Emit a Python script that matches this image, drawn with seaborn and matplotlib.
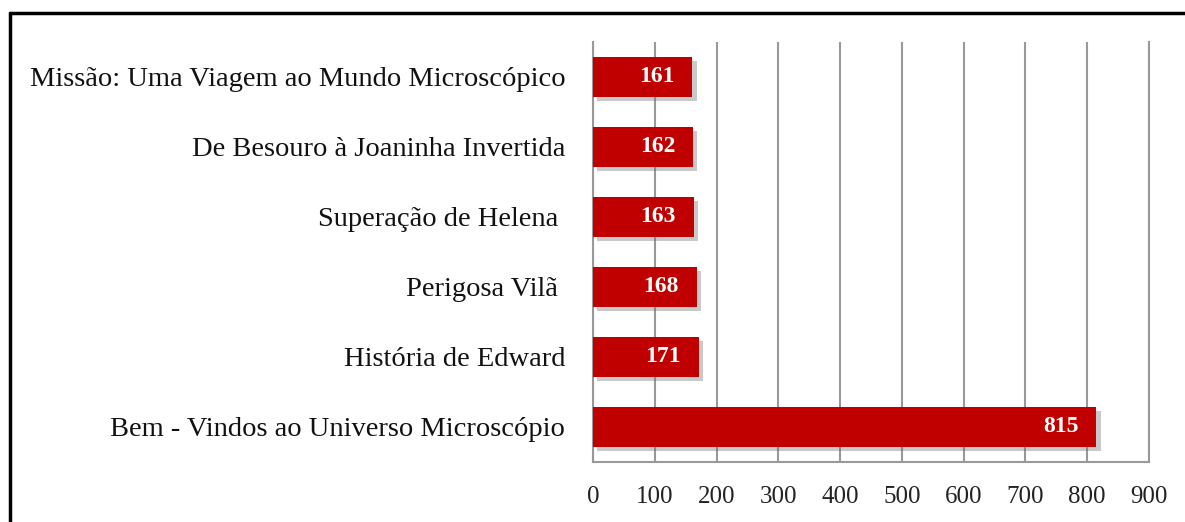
import matplotlib
matplotlib.use('Agg')

import matplotlib.pyplot as plt
import matplotlib.patheffects as pe
from matplotlib.lines import Line2D
import pandas as pd
import seaborn as sns

# dados
titulos = [
    'Missão: Uma Viagem ao Mundo Microscópico',
    'De Besouro à Joaninha Invertida',
    'Superação de Helena ',
    'Perigosa Vilã ',
    'História de Edward',
    'Bem - Vindos ao Universo Microscópio',
]
valores = [161, 162, 163, 168, 171, 815]
x_ticks = [0, 100, 200, 300, 400, 500, 600, 700, 800, 900]

df = pd.DataFrame({'titulo': titulos, 'valor': valores})

sns.set_theme(style='white')
plt.rcParams['font.family'] = ['Liberation Serif', 'DejaVu Serif']

fig = plt.figure(figsize=(11.85, 5.22), dpi=100)
ax = fig.add_axes([593 / 1185, 60 / 522, 556 / 1185, 420 / 522])

sns.barplot(data=df, x='valor', y='titulo', orient='h', color='#C00000',
            saturation=1, width=0.57, linewidth=0, ax=ax, zorder=3)

# sombra das barras
for p in ax.patches:
    p.set_path_effects([pe.SimplePatchShadow(offset=(3, -3), shadow_rgbFace='#666666', alpha=0.35),
                        pe.Normal()])

# rótulos dentro das barras
for p, v in zip(ax.patches, valores):
    ax.annotate(str(v), xy=(p.get_width(), p.get_y() + p.get_height() / 2),
                xytext=(-13, 0), textcoords='offset points', ha='right', va='center',
                color='white', fontsize=17, fontweight='bold', zorder=5)

ax.set_xlim(0, 900)
ax.set_xticks(x_ticks)
ax.set_xticklabels([str(t) for t in x_ticks])
ax.set_ylim(5.5, -0.5)
ax.xaxis.grid(True, color='#999999', linewidth=1.5, zorder=0)
ax.set_axisbelow(True)
ax.set_xlabel('')
ax.set_ylabel('')
ax.tick_params(axis='x', length=0, pad=17, labelsize=18, colors='#222222')
ax.tick_params(axis='y', length=0, pad=20, labelsize=20.5, colors='#111111')

for s in ['left', 'bottom', 'right']:
    ax.spines[s].set_visible(True)
    ax.spines[s].set_color('#999999')
    ax.spines[s].set_linewidth(1.5)
ax.spines['top'].set_visible(False)

# moldura da figura
fig.add_artist(Line2D([10 / 1185, 1], [1 - 13 / 522, 1 - 13 / 522], color='black', linewidth=2.5,
                      transform=fig.transFigure))
fig.add_artist(Line2D([10 / 1185, 10 / 1185], [0, 1 - 13 / 522], color='black', linewidth=2.5,
                      transform=fig.transFigure))

fig.savefig('out.png', dpi=100)
